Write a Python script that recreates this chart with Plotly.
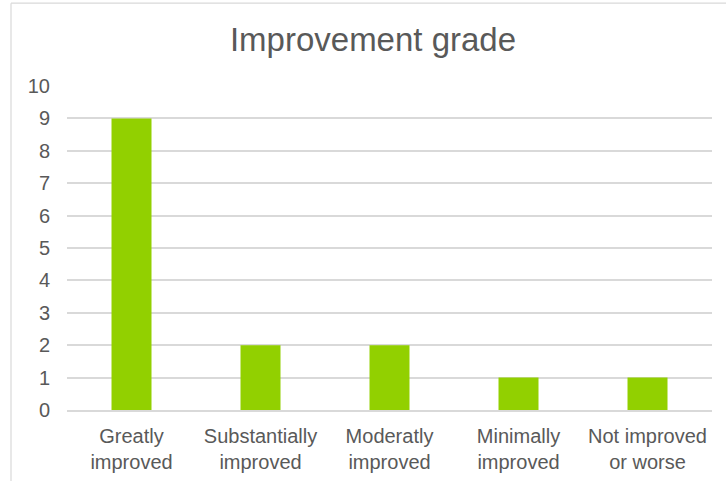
import plotly.graph_objects as go

# Chart data
categories = [
    "Greatly<br>improved",
    "Substantially<br>improved",
    "Moderatly<br>improved",
    "Minimally<br>improved",
    "Not improved<br>or worse",
]
counts = [9, 2, 2, 1, 1]
y_ticks = list(range(0, 11))

W, H = 726, 481
ML, MR, MT, MB = 67, 14, 86, 70.5
PW, PH = W - ML - MR, H - MT - MB

TEXT = "#595959"
GRID = "#D9D9D9"
BAR = "#92D000"
FONT = "Liberation Sans, Arial, sans-serif"

fig = go.Figure(
    go.Bar(
        x=categories,
        y=counts,
        marker=dict(color=BAR, line=dict(width=0)),
        width=0.31,
        hoverinfo="x+y",
    )
)

# frame of the chart area (left and top edges visible)
def px_x(px):
    return (px - ML) / PW

def px_y(py):
    return (H - MB - py) / PH

fig.add_shape(type="line", xref="paper", yref="paper",
              x0=px_x(11), x1=px_x(11), y0=px_y(3), y1=px_y(H + 5),
              line=dict(color=GRID, width=1.2))
fig.add_shape(type="line", xref="paper", yref="paper",
              x0=px_x(11), x1=px_x(W + 5), y0=px_y(3), y1=px_y(3),
              line=dict(color=GRID, width=1.2))

fig.update_layout(
    width=W,
    height=H,
    margin=dict(l=ML, r=MR, t=MT, b=MB, pad=0, autoexpand=False),
    paper_bgcolor="white",
    plot_bgcolor="white",
    showlegend=False,
    font=dict(family=FONT, color=TEXT, size=20),
    title=dict(
        text="Improvement grade",
        x=px_x(373), xref="paper", xanchor="center",
        y=1 - 39 / H, yanchor="middle",
        font=dict(family=FONT, size=33, color=TEXT),
    ),
    xaxis=dict(
        type="category",
        automargin=False,
        showgrid=False,
        showline=True,
        linecolor=GRID,
        linewidth=1.5,
        ticks="",
        tickfont=dict(family=FONT, size=20, color=TEXT),
        ticklabelstandoff=7,
        fixedrange=True,
    ),
    yaxis=dict(
        range=[0, 10],
        tickvals=y_ticks,
        automargin=False,
        showgrid=True,
        gridcolor=GRID,
        gridwidth=1.5,
        zeroline=False,
        showline=False,
        ticks="",
        tickfont=dict(family=FONT, size=20, color=TEXT),
        ticklabelstandoff=16,
        fixedrange=True,
    ),
)

fig.write_html("out.html")
